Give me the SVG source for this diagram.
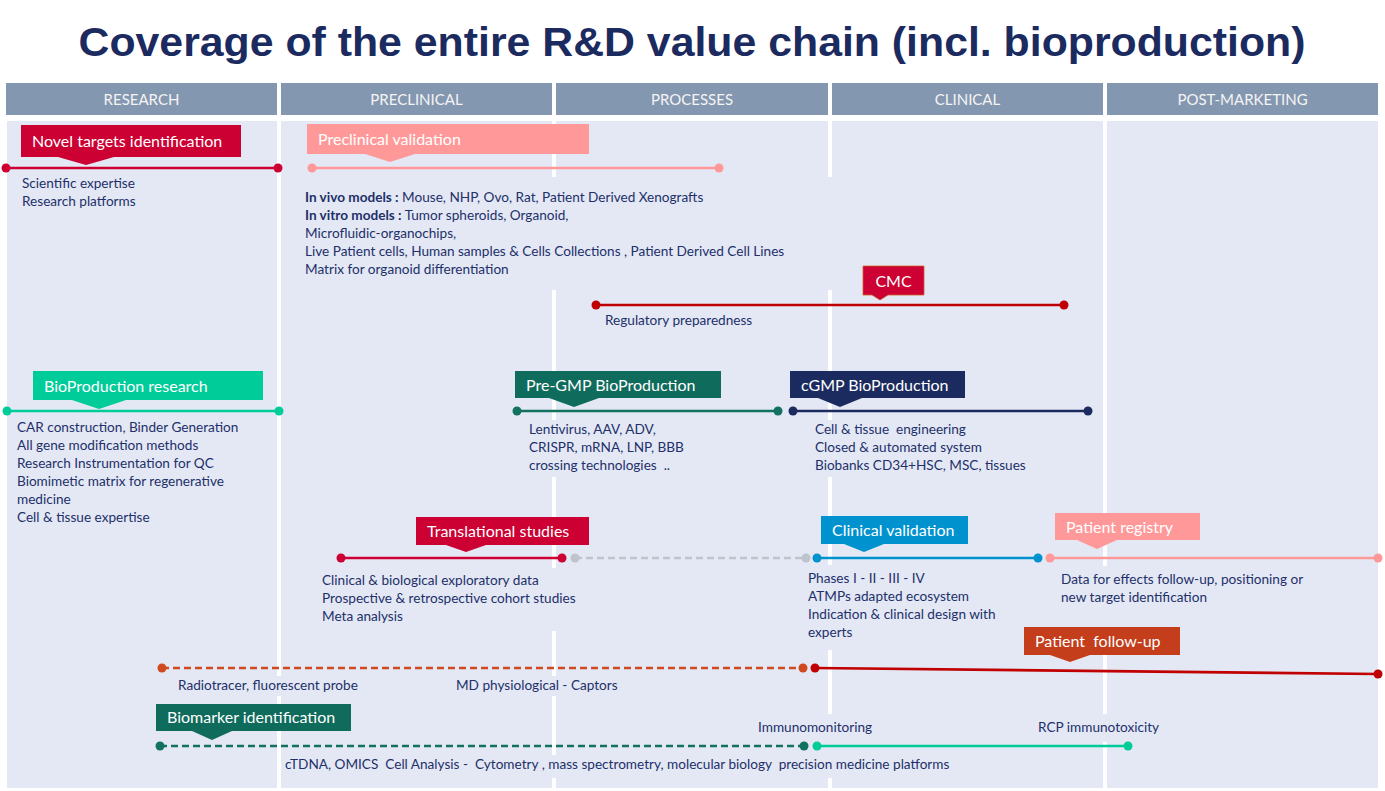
<svg xmlns="http://www.w3.org/2000/svg" width="1385" height="791" viewBox="0 0 1385 791">
<style>
.title{font-family:"Liberation Sans",Arial,sans-serif;font-weight:bold;font-size:41px;fill:#1C2B5F}
.hdr{fill:#8497B0}
.hdrt{font-family:Lato,"Open Sans",sans-serif;font-size:15px;fill:#F4F4F4;text-anchor:middle}
.panel{fill:#E4E8F4}
.gap{fill:#FFFFFF}
.lbl{font-family:Lato,"Open Sans",sans-serif;font-size:16px;fill:#FFFFFF}
.txt{font-family:Lato,"Open Sans",sans-serif;font-size:13.6px;fill:#22306A}
.b{font-weight:bold}
.ln{stroke-width:2.6;fill:none}
.dash{stroke-dasharray:7 4}
</style>
<rect width="1385" height="791" fill="#FFFFFF"/>
<text class="title" x="692" y="56" text-anchor="middle" textLength="1227" lengthAdjust="spacingAndGlyphs">Coverage of the entire R&amp;D value chain (incl. bioproduction)</text>

<g id="headers">
<rect class="hdr" x="6" y="83" width="271" height="32"/>
<rect class="hdr" x="281" y="83" width="271" height="32"/>
<rect class="hdr" x="556" y="83" width="272" height="32"/>
<rect class="hdr" x="832" y="83" width="271" height="32"/>
<rect class="hdr" x="1107" y="83" width="271" height="32"/>
<text class="hdrt" x="141.5" y="104.5">RESEARCH</text>
<text class="hdrt" x="416.5" y="104.5">PRECLINICAL</text>
<text class="hdrt" x="692" y="104.5">PROCESSES</text>
<text class="hdrt" x="967.5" y="104.5">CLINICAL</text>
<text class="hdrt" x="1242.5" y="104.5">POST-MARKETING</text>
</g>

<g id="columns">
<rect class="panel" x="7" y="121" width="1371" height="667"/>
<rect class="gap" x="277" y="121" width="4" height="555"/>
<rect class="gap" x="277" y="696" width="4" height="92"/>
<rect class="gap" x="552" y="121" width="4" height="56"/>
<rect class="gap" x="552" y="290" width="4" height="130"/>
<rect class="gap" x="552" y="477" width="4" height="91"/>
<rect class="gap" x="552" y="631" width="4" height="45"/>
<rect class="gap" x="552" y="696" width="4" height="59"/>
<rect class="gap" x="552" y="778" width="4" height="10"/>
<rect class="gap" x="828" y="121" width="4" height="56"/>
<rect class="gap" x="828" y="290" width="4" height="130"/>
<rect class="gap" x="828" y="477" width="4" height="88"/>
<rect class="gap" x="828" y="650" width="4" height="64"/>
<rect class="gap" x="828" y="778" width="4" height="10"/>
<rect class="gap" x="1103" y="121" width="4" height="445"/>
<rect class="gap" x="1103" y="627" width="4" height="87"/>
<rect class="gap" x="1103" y="742" width="4" height="46"/>
</g>

<g id="connectors">
<line class="ln" x1="6" y1="168" x2="278" y2="168" stroke="#CC0033"/>
<line class="ln" x1="312" y1="168" x2="719" y2="168" stroke="#FF9999"/>
<line class="ln" x1="596" y1="305" x2="1064" y2="305" stroke="#C00000"/>
<line class="ln" x1="7" y1="411" x2="279" y2="411" stroke="#00CC99"/>
<line class="ln" x1="517" y1="411" x2="778" y2="411" stroke="#137161"/>
<line class="ln" x1="793" y1="411" x2="1088" y2="411" stroke="#1C2B5F"/>
<line class="ln" x1="341" y1="558" x2="562" y2="558" stroke="#CC0033"/>
<line class="ln dash" x1="575" y1="558" x2="806" y2="558" stroke="#BFC3CC"/>
<line class="ln" x1="817" y1="558" x2="1038" y2="558" stroke="#0092CF"/>
<line class="ln" x1="1050" y1="558" x2="1378" y2="558" stroke="#FF9999"/>
<line class="ln dash" x1="162" y1="668" x2="803" y2="668" stroke="#D04A1F"/>
<line class="ln" x1="815" y1="668" x2="1378" y2="674" stroke="#C00000"/>
<line class="ln dash" x1="160" y1="746" x2="804" y2="746" stroke="#137161"/>
<line class="ln" x1="817" y1="746" x2="1128" y2="746" stroke="#00CC99"/>
<g fill="#CC0033"><circle cx="6" cy="168" r="4.5"/><circle cx="278" cy="168" r="4.5"/><circle cx="341" cy="558" r="4.5"/><circle cx="562" cy="558" r="4.5"/></g>
<g fill="#FF9999"><circle cx="312" cy="168" r="4.5"/><circle cx="719" cy="168" r="4.5"/><circle cx="1050" cy="558" r="4.5"/><circle cx="1378" cy="558" r="4.5"/></g>
<g fill="#C00000"><circle cx="596" cy="305" r="4.5"/><circle cx="1064" cy="305" r="4.5"/><circle cx="815" cy="668" r="4.5"/><circle cx="1378" cy="674" r="4.5"/></g>
<g fill="#00CC99"><circle cx="7" cy="411" r="4.5"/><circle cx="279" cy="411" r="4.5"/><circle cx="817" cy="746" r="4.5"/><circle cx="1128" cy="746" r="4.5"/></g>
<g fill="#137161"><circle cx="517" cy="411" r="4.5"/><circle cx="778" cy="411" r="4.5"/><circle cx="160" cy="746" r="4.5"/><circle cx="804" cy="746" r="4.5"/></g>
<g fill="#1C2B5F"><circle cx="793" cy="411" r="4.5"/><circle cx="1088" cy="411" r="4.5"/></g>
<g fill="#BFC3CC"><circle cx="575" cy="558" r="4.5"/><circle cx="806" cy="558" r="4.5"/></g>
<g fill="#0092CF"><circle cx="817" cy="558" r="4.5"/><circle cx="1038" cy="558" r="4.5"/></g>
<g fill="#D04A1F"><circle cx="162" cy="668" r="4.5"/><circle cx="803" cy="668" r="4.5"/></g>
</g>

<g id="novel-targets">
<path d="M21 125H241V157H114L86 165L58 157H21Z" fill="#CC0033"/>
<text class="lbl" x="32" y="147">Novel targets identification</text>
<text class="txt" x="22" y="188">Scientific expertise</text>
<text class="txt" x="22" y="206">Research platforms</text>
</g>

<g id="preclinical-validation">
<path d="M307 124H589V154H415L390 162L365 154H307Z" fill="#FF9999"/>
<text class="lbl" x="318" y="145">Preclinical validation</text>
<text class="txt" x="305" y="202"><tspan class="b">In vivo models :</tspan> Mouse, NHP, Ovo, Rat, Patient Derived Xenografts</text>
<text class="txt" x="305" y="220"><tspan class="b">In vitro models :</tspan> Tumor spheroids, Organoid,</text>
<text class="txt" x="305" y="238">Microfluidic-organochips,</text>
<text class="txt" x="305" y="256">Live Patient cells, Human samples &amp; Cells Collections , Patient Derived Cell Lines</text>
<text class="txt" x="305" y="274">Matrix for organoid differentiation</text>
</g>

<g id="cmc">
<path d="M863 266H924V295H888L880 300L872 295H863Z" fill="#CC0033" stroke="#D0602A" stroke-width="0.8"/>
<text class="lbl" x="893.5" y="287" text-anchor="middle">CMC</text>
<text class="txt" x="605" y="325">Regulatory preparedness</text>
</g>

<g id="bioproduction-research">
<path d="M33 371H263V400H126L99 409L72 400H33Z" fill="#00CC99"/>
<text class="lbl" x="44" y="392">BioProduction research</text>
<text class="txt" x="17" y="432">CAR construction, Binder Generation</text>
<text class="txt" x="17" y="450">All gene modification methods</text>
<text class="txt" x="17" y="468">Research Instrumentation for QC</text>
<text class="txt" x="17" y="486">Biomimetic matrix for regenerative</text>
<text class="txt" x="17" y="504">medicine</text>
<text class="txt" x="17" y="522">Cell &amp; tissue expertise</text>
</g>

<g id="pre-gmp-bioproduction">
<path d="M515 371H721V398H599L574 407L549 398H515Z" fill="#0F6B5C"/>
<text class="lbl" x="526" y="391">Pre-GMP BioProduction</text>
<text class="txt" x="529" y="434">Lentivirus, AAV, ADV,</text>
<text class="txt" x="529" y="452">CRISPR, mRNA, LNP, BBB</text>
<text class="txt" x="529" y="470" xml:space="preserve">crossing technologies  ..</text>
</g>

<g id="cgmp-bioproduction">
<path d="M790 371H965V398H862L840 407L818 398H790Z" fill="#1C2B5F"/>
<text class="lbl" x="801" y="391">cGMP BioProduction</text>
<text class="txt" x="815" y="434" xml:space="preserve">Cell &amp; tissue  engineering</text>
<text class="txt" x="815" y="452">Closed &amp; automated system</text>
<text class="txt" x="815" y="470">Biobanks CD34+HSC, MSC, tissues</text>
</g>

<g id="translational-studies">
<path d="M416 517H589V545H486L466 552L446 545H416Z" fill="#CC0033"/>
<text class="lbl" x="427" y="537">Translational studies</text>
<text class="txt" x="322" y="585">Clinical &amp; biological exploratory data</text>
<text class="txt" x="322" y="603">Prospective &amp; retrospective cohort studies</text>
<text class="txt" x="322" y="621">Meta analysis</text>
</g>

<g id="clinical-validation">
<path d="M821 516H968V544H884L864 552L844 544H821Z" fill="#0092CF"/>
<text class="lbl" x="832" y="536">Clinical validation</text>
<text class="txt" x="808" y="583">Phases I - II - III - IV</text>
<text class="txt" x="808" y="601">ATMPs adapted ecosystem</text>
<text class="txt" x="808" y="619">Indication &amp; clinical design with</text>
<text class="txt" x="808" y="637">experts</text>
</g>

<g id="patient-registry">
<path d="M1055 513H1200V540H1117L1097 549L1077 540H1055Z" fill="#FF9999"/>
<text class="lbl" x="1066" y="533">Patient registry</text>
<text class="txt" x="1061" y="584">Data for effects follow-up, positioning or</text>
<text class="txt" x="1061" y="602">new target identification</text>
</g>

<g id="patient-follow-up">
<path d="M1024 627H1180V655H1090L1070 662L1050 655H1024Z" fill="#C43E1C"/>
<text class="lbl" x="1035" y="647" xml:space="preserve">Patient  follow-up</text>
<text class="txt" x="178" y="690">Radiotracer, fluorescent probe</text>
<text class="txt" x="456" y="690">MD physiological - Captors</text>
</g>

<g id="biomarker-identification">
<path d="M156 704H351V731H232L212 740L192 731H156Z" fill="#0F6B5C"/>
<text class="lbl" x="167" y="723">Biomarker identification</text>
<text class="txt" x="758" y="732">Immunomonitoring</text>
<text class="txt" x="1038" y="732">RCP immunotoxicity</text>
<text class="txt" x="285" y="769" xml:space="preserve">cTDNA, OMICS  Cell Analysis -  Cytometry , mass spectrometry, molecular biology  precision medicine platforms</text>
</g>
</svg>
